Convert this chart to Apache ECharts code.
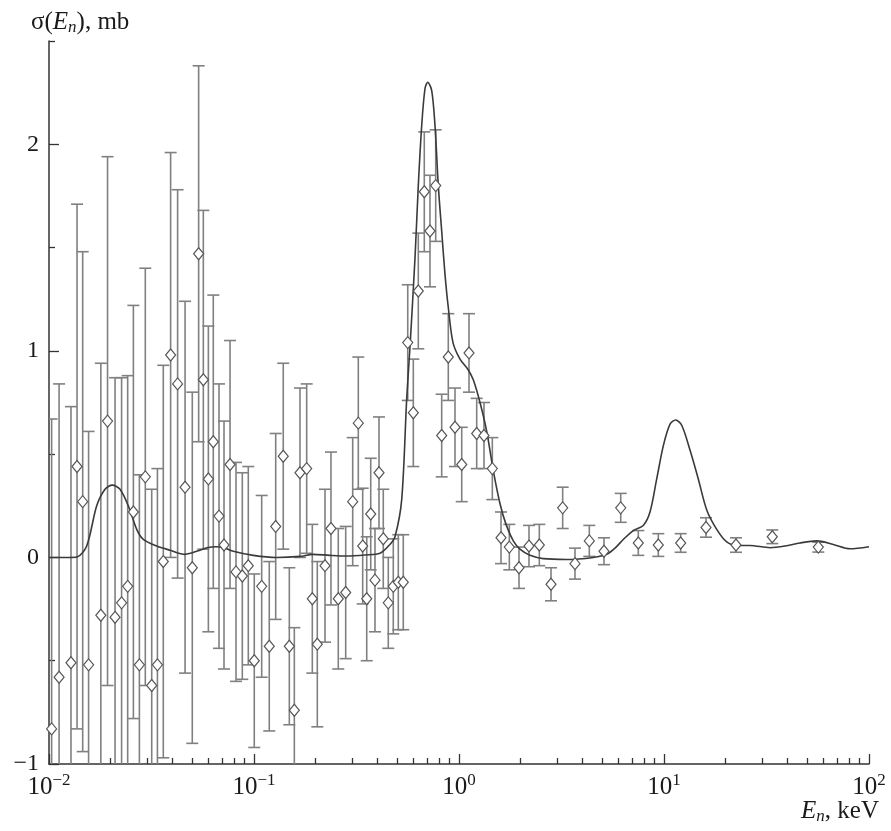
<!DOCTYPE html>
<html>
<head>
<meta charset="utf-8">
<style>
  html, body { margin: 0; padding: 0; background: #fff; }
  #chart { width: 891px; height: 831px; }
</style>
<script src="https://cdn.jsdelivr.net/npm/echarts@6/dist/echarts.min.js"></script>
</head>
<body>
<div id="chart"></div>
<script>
// Measured cross section: neutron energy (keV), sigma (mb) and its 1-sigma error (mb)
const energy = [
  0.0103, 0.0112, 0.0128, 0.0137, 0.0146, 0.0156, 0.0179, 0.0193, 0.0210, 0.0226,
  0.0242, 0.0258, 0.0276, 0.0295, 0.0317, 0.0338, 0.0361, 0.0392, 0.0424, 0.0461,
  0.0500, 0.0537, 0.0566, 0.0599, 0.0633, 0.0675, 0.0714, 0.0764, 0.0817, 0.0877,
  0.0938, 0.1003, 0.1090, 0.1187, 0.1276, 0.1389, 0.1487, 0.1573, 0.1676, 0.1807,
  0.1925, 0.2036, 0.2220, 0.2374, 0.2577, 0.2801, 0.3030, 0.3227, 0.3390, 0.3547,
  0.3710, 0.3892, 0.4072, 0.4272, 0.4519, 0.4780, 0.5057, 0.5348, 0.5623, 0.5986,
  0.6331, 0.6771, 0.7218, 0.7697, 0.8233, 0.8867, 0.9561, 1.031, 1.119, 1.220,
  1.324, 1.454, 1.603, 1.760, 1.962, 2.195, 2.465, 2.811, 3.204, 3.680,
  4.322, 5.096, 6.150, 7.493, 9.380, 12.06, 16.03, 22.45, 33.75, 56.59
];
const sigma = [
  -0.83, -0.58, -0.51, 0.44, 0.27, -0.52, -0.28, 0.66, -0.29, -0.22,
  -0.14, 0.22, -0.52, 0.39, -0.62, -0.52, -0.02, 0.98, 0.84, 0.34,
  -0.05, 1.47, 0.86, 0.38, 0.56, 0.20, 0.06, 0.45, -0.07, -0.09,
  -0.04, -0.50, -0.14, -0.43, 0.15, 0.49, -0.43, -0.74, 0.41, 0.43,
  -0.20, -0.42, -0.04, 0.14, -0.20, -0.17, 0.27, 0.65, 0.055, -0.20,
  0.21, -0.11, 0.41, 0.09, -0.22, -0.14, -0.12, -0.12, 1.04, 0.70,
  1.29, 1.77, 1.58, 1.80, 0.59, 0.97, 0.63, 0.45, 0.99, 0.60,
  0.59, 0.43, 0.095, 0.05, -0.05, 0.055, 0.06, -0.13, 0.24, -0.03,
  0.08, 0.03, 0.24, 0.07, 0.06, 0.07, 0.145, 0.06, 0.10, 0.05
];
const sigmaErr = [
  1.50, 1.42, 1.24, 1.27, 1.21, 1.13, 1.22, 1.28, 1.16, 1.09,
  1.02, 1.00, 0.92, 1.01, 0.95, 0.95, 0.95, 0.98, 0.94, 0.90,
  0.85, 0.91, 0.82, 0.74, 0.71, 0.64, 0.60, 0.60, 0.53, 0.50,
  0.48, 0.42, 0.44, 0.41, 0.45, 0.45, 0.38, 0.40, 0.41, 0.41,
  0.36, 0.40, 0.37, 0.37, 0.34, 0.32, 0.31, 0.32, 0.28, 0.30,
  0.27, 0.25, 0.27, 0.24, 0.22, 0.23, 0.23, 0.23, 0.28, 0.26,
  0.28, 0.29, 0.27, 0.27, 0.20, 0.21, 0.19, 0.18, 0.19, 0.17,
  0.16, 0.15, 0.125, 0.11, 0.10, 0.10, 0.10, 0.08, 0.10, 0.075,
  0.075, 0.065, 0.07, 0.06, 0.055, 0.045, 0.047, 0.035, 0.033, 0.024
];

// Calculated cross section curve
const curveEnergy = [
  0.0100, 0.01131, 0.01266, 0.01370, 0.01527, 0.01709, 0.01876, 0.02036, 0.02220, 0.02437,
  0.02678, 0.02884, 0.03352, 0.03893, 0.04605, 0.05453, 0.05964, 0.06525, 0.07218, 0.07925,
  0.09922, 0.1290, 0.1676, 0.1940, 0.2348, 0.2833, 0.3479, 0.4117, 0.4605, 0.4873,
  0.5254, 0.5559, 0.5768, 0.6101, 0.6331, 0.6577, 0.6826, 0.7036, 0.7360, 0.7638,
  0.7925, 0.8233, 0.8544, 0.8867, 0.9348, 1.0114, 1.106, 1.174, 1.266, 1.365,
  1.470, 1.585, 1.696, 1.840, 1.984, 2.220, 2.577, 3.353, 4.520, 5.254,
  5.768, 6.331, 7.084, 7.925, 8.544, 9.214, 9.922, 10.70, 11.40, 12.20,
  13.39, 14.70, 16.16, 18.08, 20.23, 22.62, 26.27, 32.90, 38.93, 46.05,
  55.59, 66.97, 80.79, 100.0
];
const curveSigma = [
  0.0, 0.0, 0.0, 0.002, 0.055, 0.25, 0.33, 0.35, 0.33, 0.25,
  0.136, 0.087, 0.055, 0.035, 0.015, 0.035, 0.048, 0.052, 0.045, 0.03,
  0.01, 0.0, 0.005, 0.015, 0.01, 0.007, 0.012, 0.02, 0.063, 0.10,
  0.28, 0.77, 1.02, 1.45, 1.80, 2.09, 2.27, 2.30, 2.26, 2.09,
  1.80, 1.58, 1.37, 1.21, 1.04, 0.96, 0.91, 0.86, 0.75, 0.61,
  0.42, 0.26, 0.16, 0.08, 0.04, 0.01, -0.006, -0.01, 0.0, 0.015,
  0.045, 0.087, 0.13, 0.155, 0.22, 0.38, 0.54, 0.645, 0.665, 0.64,
  0.52, 0.38, 0.23, 0.136, 0.075, 0.058, 0.058, 0.047, 0.055, 0.07,
  0.08, 0.063, 0.042, 0.052
];

// Axis ticks
const yMajorTicks = [-1, 0, 1, 2];
const yMinorTicks = [-0.5, 0.5, 1.5, 2.5];
const xMajorTicks = [0.01, 0.1, 1, 10, 100];
const xMinorTicks = [0.01, 0.1, 1, 10].flatMap(d => [2, 3, 4, 5, 6, 7, 8, 9].map(k => +(k * d).toPrecision(3)));

const FONT = "'Liberation Serif', 'Times New Roman', serif";
const INK = '#1a1a1a';
const AXIS = '#333';

const errData = energy.map((e, i) => [e, sigma[i] - sigmaErr[i], sigma[i] + sigmaErr[i]]);
const pointData = energy.map((e, i) => [e, sigma[i]]);
const curveData = curveEnergy.map((e, i) => [e, curveSigma[i]]);

const minus = v => (v < 0 ? '\u2212' + (-v) : String(v));

const chart = echarts.init(document.getElementById('chart'), null, { renderer: 'canvas' });

const baseX = {
  type: 'log', logBase: 10, min: 0.01, max: 100,
  position: 'bottom', splitLine: { show: false }
};
const baseY = {
  type: 'value', min: -1, max: 2.5,
  position: 'left', splitLine: { show: false }
};

// Rich styles shared by the two axis titles
const nameRich = {
  t: { fontFamily: FONT, fontSize: 25, fontWeight: 'normal', color: INK },
  i: { fontFamily: FONT, fontSize: 25, fontWeight: 'normal', fontStyle: 'italic', color: INK },
  sub: { fontFamily: FONT, fontSize: 17, fontWeight: 'normal', fontStyle: 'italic', color: INK, padding: [10, 0, 0, 0] }
};

chart.setOption({
  animation: false,
  backgroundColor: '#fff',
  grid: { left: 49, right: 22, top: 41, bottom: 67, containLabel: false },
  title: [
    {
      text: '{t|\u03c3(}{i|E}{sub|n}{t|), mb}',
      left: 26, top: 4,
      textStyle: { fontWeight: 'normal', rich: nameRich }
    },
    {
      text: '{i|E}{sub|n}{t|, keV}',
      right: 7, bottom: 2,
      textStyle: { fontWeight: 'normal', rich: nameRich }
    }
  ],
  xAxis: [
    Object.assign({}, baseX, {
      axisLine: { onZero: false, lineStyle: { color: AXIS, width: 1.5 } },
      axisTick: { customValues: xMajorTicks, inside: true, length: 10, lineStyle: { color: AXIS, width: 1.3 } },
      axisLabel: {
        customValues: xMajorTicks,
        margin: 8,
        formatter: v => '{b|10}{s|' + minus(Math.round(Math.log10(v))) + '}',
        rich: {
          b: { fontFamily: FONT, fontSize: 25, color: INK },
          s: { fontFamily: FONT, fontSize: 17, color: INK, padding: [0, 0, 13, 0] }
        }
      }
    }),
    Object.assign({}, baseX, {
      axisLine: { show: false, onZero: false },
      axisLabel: { show: false },
      axisTick: { customValues: xMinorTicks, inside: true, length: 6, lineStyle: { color: AXIS, width: 1.3 } }
    })
  ],
  yAxis: [
    Object.assign({}, baseY, {
      axisLine: { show: true, onZero: false, lineStyle: { color: AXIS, width: 1.5 } },
      axisTick: { customValues: yMajorTicks, inside: true, length: 10, lineStyle: { color: AXIS, width: 1.3 } },
      axisLabel: {
        customValues: yMajorTicks, margin: 10,
        formatter: minus,
        fontFamily: FONT, fontSize: 24, color: INK
      }
    }),
    Object.assign({}, baseY, {
      axisLine: { show: false, onZero: false },
      axisLabel: { show: false },
      axisTick: { customValues: yMinorTicks, inside: true, length: 6, lineStyle: { color: AXIS, width: 1.3 } }
    })
  ],
  series: [
    {
      name: 'error',
      type: 'custom',
      xAxisIndex: 0, yAxisIndex: 0,
      clip: true,
      z: 1,
      encode: { x: 0, y: [1, 2] },
      data: errData,
      renderItem: (params, api) => {
        const x = api.value(0);
        const lo = api.coord([x, api.value(1)]);
        const hi = api.coord([x, api.value(2)]);
        const hw = 6;
        const style = { stroke: '#808080', lineWidth: 1.6, fill: null };
        return {
          type: 'group',
          children: [
            { type: 'line', shape: { x1: hi[0], y1: hi[1], x2: lo[0], y2: lo[1] }, style },
            { type: 'line', shape: { x1: hi[0] - hw, y1: hi[1], x2: hi[0] + hw, y2: hi[1] }, style },
            { type: 'line', shape: { x1: lo[0] - hw, y1: lo[1], x2: lo[0] + hw, y2: lo[1] }, style }
          ]
        };
      }
    },
    {
      name: 'calc',
      type: 'line',
      xAxisIndex: 0, yAxisIndex: 0,
      data: curveData,
      smooth: 0.3,
      showSymbol: false,
      clip: true,
      z: 2,
      lineStyle: { color: '#3a3a3a', width: 1.6 }
    },
    {
      name: 'exp',
      type: 'scatter',
      xAxisIndex: 0, yAxisIndex: 0,
      data: pointData,
      symbol: 'diamond',
      symbolSize: [10, 12],
      clip: true,
      z: 3,
      itemStyle: { color: '#fff', borderColor: '#555', borderWidth: 1.2, opacity: 1 }
    }
  ]
});
</script>
</body>
</html>
